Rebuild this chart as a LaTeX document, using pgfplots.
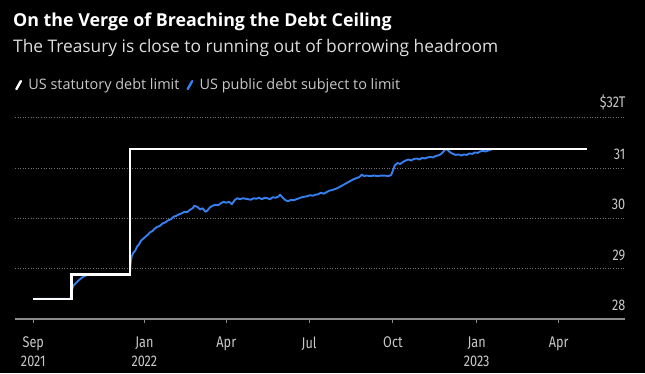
\documentclass[border=0pt]{standalone}
\usepackage{pgfplots}
\pgfplotsset{compat=1.18}
\usepackage{fontspec}
\setmainfont{Open Sans}
\newfontfamily\tickfont[FakeStretch=0.82]{Fira Sans}
\definecolor{blueline}{RGB}{55,126,238}
\definecolor{gridc}{RGB}{115,115,115}
\definecolor{axisc}{RGB}{140,140,140}
\definecolor{tickc}{RGB}{200,200,200}
\definecolor{subc}{RGB}{222,222,222}
\begin{document}
\begin{tikzpicture}[x=1bp,y=1bp]
\useasboundingbox (0,0) rectangle (645,373);
\fill[black] (0,0) rectangle (645,373);
\node[anchor=west, text=white, font=\fontsize{17.9}{21}\selectfont\bfseries, inner sep=0] at (13bp,351bp) {On the Verge of Breaching the Debt Ceiling};
\node[anchor=west, text=subc, font=\fontsize{17.4}{21}\selectfont, inner sep=0] at (13bp,325.5bp) {The Treasury is close to running out of borrowing headroom};
\begin{axis}[
  at={(15bp,54bp)}, anchor=south west,
  scale only axis, width=610bp, height=201.3bp,
  xmin=-20.1, xmax=649.9, ymin=28, ymax=32,
  axis x line*=bottom, axis y line*=right,
  x axis line style={draw=axisc, line width=1.3bp, -},
  y axis line style={draw=none},
  /pgf/number format/assume math mode=true,
  xtick={0,122,212,303,395,487,577},
  xticklabels={{Sep\\2021},{Jan\\2022},Apr,Jul,Oct,{Jan\\2023},Apr},
  xticklabel style={align=center, text=tickc, font=\tickfont\fontsize{15.5}{19}\selectfont, yshift=-10bp},
  x tick style={draw=axisc, line width=1bp},
  tick align=outside, major tick length=4bp,
  ytick={28,29,30,31,32}, yticklabels={\llap{28},\llap{29},\llap{30},\llap{31},\llap{\$32T}},
  y tick style={draw=none},
  yticklabel style={anchor=south east, inner sep=0, xshift=-3bp, yshift=8bp, text=tickc, font=\tickfont\fontsize{15.5}{17}\selectfont},
  ymajorgrids, grid style={gridc, dash pattern=on 1bp off 1.6bp, line width=0.8bp},
  clip=false,
  legend style={at={(axis description cs:0.0,1.162)}, anchor=west, draw=none, fill=none, inner sep=0,
    text=tickc, font=\fontsize{14.5}{17}\selectfont, legend columns=2,
    /tikz/every even column/.append style={column sep=5bp}},
  legend cell align=left,
  legend image code/.code={\draw[#1, line width=2.4bp, line cap=round] (0bp,-4bp) -- (4.5bp,4bp); \path[draw=none, fill=none] (0bp,0bp) -- (10bp,0bp);},
]
\addlegendimage{white}
\addlegendentry{US statutory debt limit}
\addlegendimage{blueline}
\addlegendentry{US public debt subject to limit}

% US public debt subject to limit ($T), x = days since 1 Sep 2021
\addplot[forget plot, blueline, line width=1.9bp, line join=round] coordinates {
(0,28.40)(41,28.40)(42,28.55)(44,28.66)(47,28.72)(50,28.77)(54,28.83)(58,28.87)(62,28.88)(106,28.88)
(107,29.12)(108,29.24)(110,29.32)(112,29.36)(114,29.44)(116,29.48)(118,29.55)(121,29.60)(123,29.63)
(126,29.68)(128,29.72)(131,29.75)(133,29.79)(136,29.83)(139,29.85)(142,29.90)(145,29.92)(148,29.96)
(151,29.98)(154,30.03)(157,30.05)(160,30.08)(163,30.10)(166,30.13)(169,30.12)(172,30.17)(175,30.20)
(177,30.25)(180,30.23)(183,30.18)(186,30.20)(189,30.13)(191,30.15)(194,30.22)(197,30.25)(200,30.27)
(203,30.26)(206,30.30)(209,30.33)(212,30.31)(215,30.33)(218,30.28)(221,30.36)(224,30.40)(227,30.38)
(230,30.40)(233,30.39)(236,30.38)(239,30.37)(242,30.40)(245,30.39)(248,30.41)(251,30.38)(254,30.41)
(257,30.40)(260,30.38)(263,30.42)(266,30.41)(269,30.43)(271,30.47)(274,30.41)(277,30.36)(280,30.34)
(283,30.37)(286,30.36)(289,30.38)(292,30.40)(295,30.42)(298,30.43)(301,30.44)(304,30.46)(307,30.45)
(310,30.47)(313,30.48)(316,30.51)(319,30.49)(322,30.52)(325,30.55)(328,30.56)(331,30.58)(334,30.60)
(337,30.63)(340,30.66)(343,30.69)(346,30.72)(349,30.75)(352,30.78)(355,30.80)(358,30.82)(361,30.87)
(363,30.84)(366,30.85)(370,30.84)(374,30.85)(378,30.84)(382,30.85)(386,30.85)(390,30.84)(393,30.86)
(395,30.95)(397,31.05)(400,31.10)(403,31.08)(406,31.12)(409,31.15)(412,31.17)(415,31.15)(418,31.18)
(421,31.19)(424,31.17)(427,31.20)(430,31.19)(433,31.21)(436,31.22)(439,31.21)(442,31.24)(445,31.25)
(448,31.28)(451,31.34)(453,31.38)(455,31.36)(458,31.31)(461,31.28)(464,31.26)(467,31.27)(470,31.25)
(473,31.27)(476,31.26)(479,31.29)(482,31.28)(485,31.31)(488,31.30)(491,31.33)(494,31.34)(497,31.33)
(500,31.35)(503,31.37)(505,31.38)
};
% US statutory debt limit ($T)
\addplot[forget plot, white, line width=2.6bp, line join=miter] coordinates {
(0,28.401)(42,28.401)(42,28.881)(106,28.881)(106,31.381)(608,31.381)
};
\end{axis}
\end{tikzpicture}
\end{document}
